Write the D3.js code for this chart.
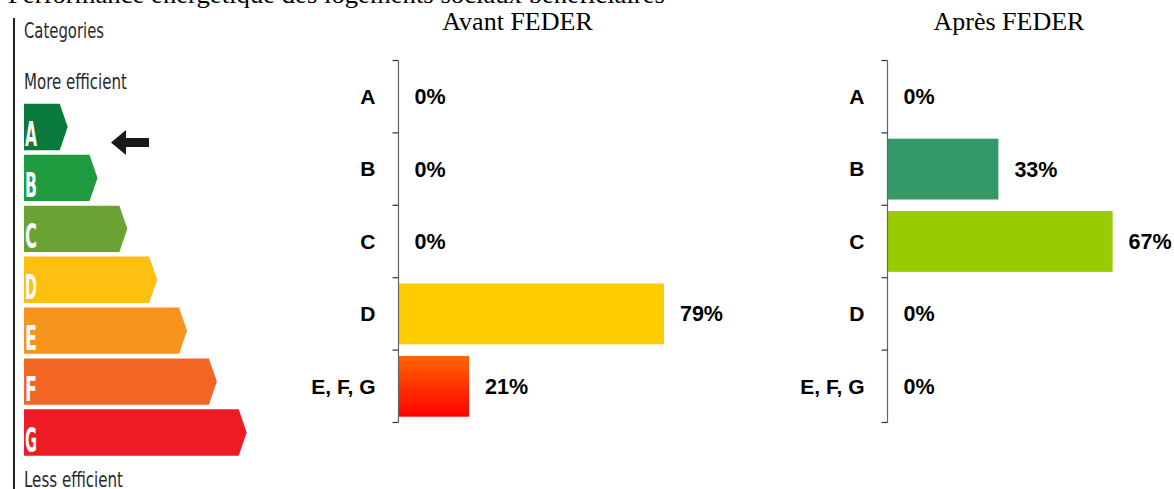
<!DOCTYPE html>
<html>
<head>
<meta charset="utf-8">
<script src="https://cdn.jsdelivr.net/npm/d3@7"></script>
<style>
  body { margin: 0; background: #fff; }
  svg { display: block; }
</style>
</head>
<body>
<div id="chart"></div>
<script>
// data
const groups = ["A", "B", "C", "D", "E, F, G"];
const avantValues = [0, 0, 0, 79, 21];
const apresValues = [0, 33, 67, 0, 0];
const avantColors = ["#ffcc00", "#ffcc00", "#ffcc00", "#ffcc00", "url(#redGrad)"];
const apresColors = ["#339966", "#339966", "#99cc00", "#ffcc00", "url(#redGrad)"];
const panelTitles = ["Avant FEDER", "Après FEDER"];

// energy label on the left
const ratingLetters = ["A", "B", "C", "D", "E", "F", "G"];
const ratingColors = ["#0a7a3c", "#1f9a3f", "#6aa233", "#fdc010", "#f7941e", "#f26522", "#ed1c24"];

const width = 1174, height = 489;

const svg = d3.select("#chart").append("svg")
    .attr("width", width)
    .attr("height", height);

const defs = svg.append("defs");
const grad = defs.append("linearGradient")
    .attr("id", "redGrad")
    .attr("x1", 0).attr("y1", 0).attr("x2", 0).attr("y2", 1);
grad.append("stop").attr("offset", "0%").attr("stop-color", "#ff6600");
grad.append("stop").attr("offset", "100%").attr("stop-color", "#ff0000");

// main title (cut at the top of the picture)
svg.append("text")
    .attr("x", 8)
    .attr("y", 3)
    .attr("textLength", 657).attr("lengthAdjust", "spacingAndGlyphs")
    .style("font", "26px 'Liberation Serif', 'Times New Roman', serif")
    .attr("fill", "#000")
    .text("Performance énergétique des logements sociaux bénéficiaires");

// ---------- energy label ----------
const lab = svg.append("g");
lab.append("line")
    .attr("x1", 14).attr("x2", 14)
    .attr("y1", 18).attr("y2", height)
    .attr("stroke", "#222").attr("stroke-width", 2);

const condensed = "'DejaVu Sans Condensed', 'DejaVu Sans', sans-serif";
lab.append("text").attr("x", 24).attr("y", 38)
    .attr("textLength", 80).attr("lengthAdjust", "spacingAndGlyphs")
    .style("font-family", condensed).style("font-size", "22px").style("font-stretch", "condensed")
    .attr("fill", "#2a2a2a").text("Categories");
lab.append("text").attr("x", 24).attr("y", 89)
    .attr("textLength", 103).attr("lengthAdjust", "spacingAndGlyphs")
    .style("font-family", condensed).style("font-size", "22px").style("font-stretch", "condensed")
    .attr("fill", "#2a2a2a").text("More efficient");
lab.append("text").attr("x", 24).attr("y", 487)
    .attr("textLength", 99).attr("lengthAdjust", "spacingAndGlyphs")
    .style("font-family", condensed).style("font-size", "22px").style("font-stretch", "condensed")
    .attr("fill", "#2a2a2a").text("Less efficient");

const ry = d3.scaleBand().domain(ratingLetters).range([101.5, 458]).paddingInner(0.09).paddingOuter(0.045);
const tipX = d3.scaleLinear().domain([0, ratingLetters.length - 1]).range([67.7, 246.7]);
const lx = 24, tipDepth = 8;

const rows = lab.selectAll("g.rating")
    .data(ratingLetters)
    .join("g").attr("class", "rating");

rows.append("path")
    .attr("fill", (d, i) => ratingColors[i])
    .attr("d", (d, i) => {
        const y0 = ry(d), h = ry.bandwidth(), tx = tipX(i);
        return `M${lx},${y0}H${tx - tipDepth}L${tx},${y0 + h / 2}L${tx - tipDepth},${y0 + h}H${lx}Z`;
    });

rows.append("text")
    .attr("x", lx + 1)
    .attr("y", d => ry(d) + ry.bandwidth() - 4)
    .attr("textLength", 12).attr("lengthAdjust", "spacingAndGlyphs")
    .style("font-family", condensed).style("font-size", "33px").style("font-weight", "bold")
    .attr("fill", "#fff")
    .text(d => d);

// black arrow pointing at A
lab.append("path")
    .attr("fill", "#1a1a1a")
    .attr("d", "M111,142.5L126,130L126,138L149,138L149,147L126,147L126,155Z");

// ---------- bar panels ----------
const y = d3.scaleBand().domain(groups).range([60.5, 422.5]).paddingInner(0.16).paddingOuter(0.08);
const x = d3.scaleLinear().domain([0, 100]).range([0, 336]);

function panel(axisX, titleX, title, values, colors) {
    const g = svg.append("g").attr("transform", `translate(${axisX},0)`);

    svg.append("text")
        .attr("x", titleX).attr("y", 30)
        .attr("text-anchor", "middle")
        .style("font", "26px 'Liberation Serif', 'Times New Roman', serif")
        .attr("fill", "#000")
        .text(title);

    g.selectAll("rect")
        .data(values)
        .join("rect")
        .attr("x", 0)
        .attr("y", (d, i) => y(groups[i]))
        .attr("width", d => x(d))
        .attr("height", y.bandwidth())
        .attr("fill", (d, i) => colors[i]);

    // axis line and ticks between the bands
    const [r0, r1] = y.range();
    g.append("line")
        .attr("x1", 0).attr("x2", 0).attr("y1", r0).attr("y2", r1)
        .attr("stroke", "#666").attr("stroke-width", 1.2);
    g.selectAll("line.tick")
        .data(d3.range(groups.length + 1))
        .join("line").attr("class", "tick")
        .attr("x1", -6).attr("x2", 0)
        .attr("y1", i => r0 + i * y.step())
        .attr("y2", i => r0 + i * y.step())
        .attr("stroke", "#333").attr("stroke-width", 1.2);

    g.selectAll("text.cat")
        .data(groups)
        .join("text").attr("class", "cat")
        .attr("x", -23)
        .attr("y", d => y(d) + y.bandwidth() / 2)
        .attr("dy", "0.35em")
        .attr("text-anchor", "end")
        .style("font", "bold 21px 'Liberation Sans', Arial, sans-serif")
        .attr("fill", "#000")
        .text(d => d);

    g.selectAll("text.val")
        .data(values)
        .join("text").attr("class", "val")
        .attr("x", d => x(d) + 16)
        .attr("y", (d, i) => y(groups[i]) + y.bandwidth() / 2)
        .attr("dy", "0.35em")
        .style("font", "bold 21.5px 'Liberation Sans', Arial, sans-serif")
        .attr("fill", "#000")
        .text(d => d + "%");
}

panel(398.5, 517.5, panelTitles[0], avantValues, avantColors);
panel(887.5, 1009, panelTitles[1], apresValues, apresColors);
</script>
</body>
</html>
